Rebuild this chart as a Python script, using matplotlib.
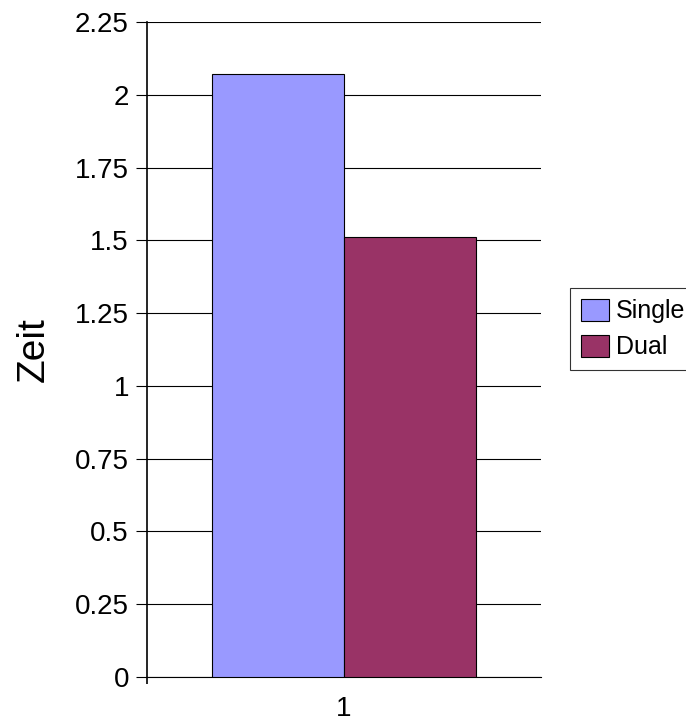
import matplotlib.pyplot as plt
from matplotlib.patches import Patch

plt.rcParams['font.family'] = ['Liberation Sans', 'DejaVu Sans']

categories = ['1']
series_names = ['Single', 'Dual']
single_values = [2.07]
dual_values = [1.51]
yticks = [0, 0.25, 0.5, 0.75, 1, 1.25, 1.5, 1.75, 2, 2.25]
ytick_labels = ['0', '0.25', '0.5', '0.75', '1', '1.25', '1.5', '1.75', '2', '2.25']
colors = ['#9999FF', '#993366']

fig = plt.figure(figsize=(6.86, 7.22), dpi=100)
ax = fig.add_axes([147 / 686, 45 / 722, 394 / 686, 655 / 722])

width = 0.335
ax.bar(1 - width / 2, single_values[0], width=width, color=colors[0], edgecolor='black', linewidth=0.8, zorder=3)
ax.bar(1 + width / 2, dual_values[0], width=width, color=colors[1], edgecolor='black', linewidth=0.8, zorder=3)

ax.set_xlim(0.5, 1.5)
ax.set_ylim(0, 2.25)
ax.set_yticks(yticks)
ax.set_yticklabels(ytick_labels, fontsize=20)
ax.set_xticks([1])
ax.set_xticklabels(categories, fontsize=20)
ax.set_xticks([0.5], minor=True)
ax.tick_params(axis='x', which='major', length=0, pad=14)
ax.tick_params(axis='x', which='minor', length=5, width=1.2)
ax.tick_params(axis='y', length=8, width=0.8, pad=5)
ax.grid(axis='y', color='black', linewidth=0.8, zorder=0)
ax.spines['top'].set_visible(False)
ax.spines['right'].set_visible(False)
ax.spines['left'].set_linewidth(1.2)
ax.spines['bottom'].set_linewidth(0.8)
ax.set_ylabel('Zeit', fontsize=28, labelpad=17)

handles = [Patch(facecolor=c, edgecolor='black', linewidth=0.8) for c in colors]
leg = fig.legend(handles, series_names, loc='upper left', bbox_to_anchor=(570 / 686, 1 - 288 / 722),
                 fontsize=18, frameon=True, fancybox=False, borderpad=0.42, handlelength=1.12,
                 handleheight=1.0, handletextpad=0.3, labelspacing=0.45, borderaxespad=0)
leg.get_frame().set_edgecolor('black')
leg.get_frame().set_linewidth(0.8)

plt.savefig('out.png', dpi=100)
